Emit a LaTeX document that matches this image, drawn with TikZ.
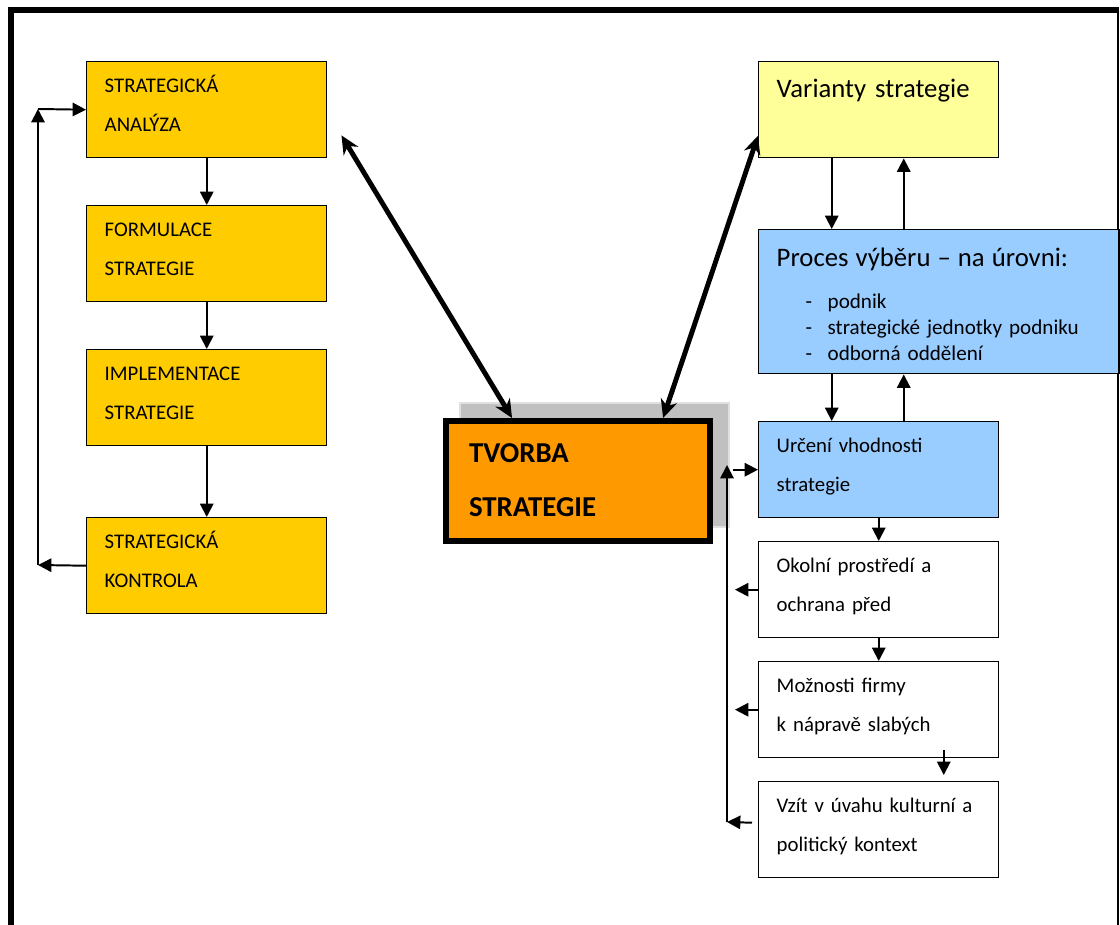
\documentclass[tikz,border=0pt]{standalone}
\usepackage{fontspec}
\setmainfont{Carlito}
\usepackage{tikz}
\usetikzlibrary{arrows.meta}
\definecolor{zluta}{HTML}{FFCC00}
\definecolor{svetlezluta}{HTML}{FFFF99}
\definecolor{modra}{HTML}{99CCFF}
\definecolor{oranzova}{HTML}{FF9900}
\definecolor{stin}{HTML}{C0C0C0}
\newcommand{\polozka}[1]{\makebox[1.275cm][l]{\hspace*{0.725cm}-}#1}

\begin{document}
\begin{tikzpicture}[x=0.025cm,y=-0.025cm,
  krok/.style={draw,line width=1pt,fill=white,anchor=north west,inner xsep=0.45cm,inner ysep=0pt,
    align=left,text width=5.1cm,text height=0.775cm,text depth=1.625cm,
    font=\fontsize{14.8}{27.7}\selectfont},
  sipka/.style={-{Triangle[length=9.5pt,width=9.5pt]},line width=1.4pt},
  tlusta/.style={{Stealth[length=13pt,width=12pt]}-{Stealth[length=13pt,width=12pt]},line width=3.5pt}]
\useasboundingbox (0,0) rectangle (1120,925);
% ramecek
\draw[line width=3.6pt] (11,925) -- (11,10) -- (1119,10);
\draw[line width=1pt] (1118,10) -- (1118,925);
% levy sloupec
\node[krok,fill=zluta] (ana) at (86,61) {STRATEGICKÁ\\ANALÝZA};
\node[krok,fill=zluta] (form) at (86,205) {FORMULACE\\STRATEGIE};
\node[krok,fill=zluta] (impl) at (86,349) {IMPLEMENTACE\\STRATEGIE};
\node[krok,fill=zluta] (kontr) at (86,517) {STRATEGICKÁ\\KONTROLA};
\draw[sipka] (ana.south) -- (form.north);
\draw[sipka] (form.south) -- (impl.north);
\draw[sipka] (impl.south) -- (kontr.north);
\coordinate (ld) at (38,565);
\coordinate (lh) at (38,109);
\draw[sipka] (kontr.west) -- (ld);
\draw[sipka] (ld) -- (lh);
\draw[sipka] (lh) -- (ana.west);
% stred
\filldraw[fill=stin,draw=black!12,line width=1pt] (460,403) rectangle (729,527);
\node[krok,fill=oranzova,line width=4.3pt,inner xsep=0.575cm,text width=5.45cm,
  text height=1.025cm,text depth=1.975cm,font=\bfseries\fontsize{20.5}{38.4}\selectfont]
  (tvorba) at (443,418) {TVORBA\\STRATEGIE};
% pravy sloupec
\node[krok,fill=svetlezluta,text height=0.9cm,text depth=1.5cm,
  font=\fontsize{19}{23}\selectfont] (var) at (758,61) {Varianty strategie};
\node[krok,fill=modra,text width=8.1cm,text height=0.925cm,text depth=2.675cm,
  font=\fontsize{15}{18.5}\selectfont] (proc) at (758,229)
  {{\fontsize{19}{23}\selectfont Proces výběru – na úrovni:}\\[11.4pt]
   \polozka{podnik}\\
   \polozka{strategické jednotky podniku}\\
   \polozka{odborná oddělení}};
\node[krok,fill=modra] (urc) at (758,421) {Určení vhodnosti\\strategie};
\node[krok] (oko) at (758,541) {Okolní prostředí a\\ochrana před};
\node[krok] (moz) at (758,661) {Možnosti firmy\\k nápravě slabých};
\node[krok] (vzi) at (758,781) {Vzít v úvahu kulturní a\\politický kontext};
\coordinate (v1) at ([xshift=-1.175cm]var.south);
\coordinate (v2) at ([xshift=0.625cm]var.south);
\draw[sipka] (v1) -- (v1 |- proc.north);
\draw[sipka] (v2 |- proc.north) -- (v2);
\draw[sipka] (v1 |- proc.south) -- (v1 |- urc.north);
\draw[sipka] (v2 |- urc.north) -- (v2 |- proc.south);
\draw[sipka] (urc.south) -- (oko.north);
\draw[sipka] (oko.south) -- (moz.north);
\draw[sipka] ([xshift=1.625cm,yshift=0.2cm]moz.south) -- ([xshift=1.625cm,yshift=0.15cm]vzi.north);
\draw[sipka] (oko.west) -- ([xshift=-0.575cm]oko.west);
\draw[sipka] (moz.west) -- ([xshift=-0.575cm]moz.west);
\coordinate (zp) at (727,822);
\coordinate (zh) at (727,465);
\draw[sipka] ([xshift=-0.15cm,yshift=0.175cm]vzi.west) -- (zp);
\draw[sipka] (zp) -- (zh);
\draw[sipka] ([xshift=-0.625cm]urc.west) -- (urc.west);
% spojeni se stredem
\draw[tlusta] ([xshift=0.35cm,yshift=0.575cm]ana.south east) -- ([xshift=-1.65cm]tvorba.north);
\draw[tlusta] ([yshift=-0.65cm]var.west) -- ([xshift=2.125cm]tvorba.north);
\end{tikzpicture}
\end{document}
